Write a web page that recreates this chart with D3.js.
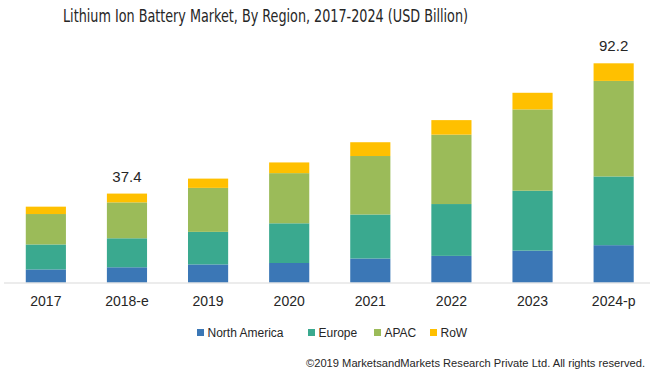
<!DOCTYPE html>
<html>
<head>
<meta charset="utf-8">
<script src="https://cdn.jsdelivr.net/npm/d3@7"></script>
<style>
  body { margin: 0; background: #fff; }
  svg { display: block; font-family: "Liberation Sans", Arial, sans-serif; }
</style>
</head>
<body>
<div id="chart"></div>
<script>
// Lithium Ion Battery Market by region (USD Billion)
const years = ["2017", "2018-e", "2019", "2020", "2021", "2022", "2023", "2024-p"];
const regions = ["North America", "Europe", "APAC", "RoW"];
const northAmerica = [5.5, 6.4, 7.6, 8.2, 10.1, 11.2, 13.4, 15.7];
const europe = [10.5, 12.2, 13.7, 16.7, 18.5, 21.8, 25.2, 28.9];
const apac = [12.8, 15.1, 18.5, 21.1, 24.6, 29.2, 34.2, 40.2];
const row = [3.1, 3.7, 3.9, 4.5, 5.8, 6.1, 7.0, 7.4];
const labelledYears = ["2018-e", "2024-p"];
const totalLabels = ["37.4", "92.2"];

const colors = {
    "North America": "#3b77b6",
    "Europe": "#3aa98f",
    "APAC": "#9bbb59",
    "RoW": "#ffc000"
};

const width = 650, height = 375;
const baseline = 282.5;

const svg = d3.select("#chart")
    .append("svg")
    .attr("width", width)
    .attr("height", height);

const table = years.map((yr, i) => ({
    year: yr,
    "North America": northAmerica[i],
    "Europe": europe[i],
    "APAC": apac[i],
    "RoW": row[i]
}));

const stacked = d3.stack().keys(regions)(table);

const x = d3.scaleBand()
    .domain(years)
    .range([5.5, 654])
    .paddingInner(0.505)
    .paddingOuter(0.25);

const y = d3.scaleLinear()
    .domain([0, 92.2])
    .range([baseline, 63.3]);

// Title
svg.append("text")
    .attr("x", 265.5)
    .attr("y", 22)
    .attr("text-anchor", "middle")
    .attr("font-family", "'Liberation Sans Narrow', 'DejaVu Sans Condensed', sans-serif")
    .attr("font-size", 18)
    .attr("fill", "#262626")
    .attr("textLength", 405)
    .attr("lengthAdjust", "spacingAndGlyphs")
    .text("Lithium Ion Battery Market, By Region, 2017-2024  (USD Billion)");

// Bars
svg.append("g")
    .selectAll("g")
    .data(stacked)
    .join("g")
    .attr("fill", d => colors[d.key])
    .selectAll("rect")
    .data(d => d)
    .join("rect")
    .attr("x", d => x(d.data.year))
    .attr("width", x.bandwidth())
    .attr("y", d => y(d[1]))
    .attr("height", d => y(d[0]) - y(d[1]));

// Axis line
svg.append("line")
    .attr("x1", 4)
    .attr("x2", 650)
    .attr("y1", baseline + 0.5)
    .attr("y2", baseline + 0.5)
    .attr("stroke", "#d9d9d9")
    .attr("stroke-width", 1);

// Category labels
const xAxis = svg.append("g")
    .attr("transform", `translate(0,${baseline})`)
    .call(d3.axisBottom(x).tickSize(0).tickPadding(14));
xAxis.select(".domain").remove();
xAxis.selectAll("text")
    .attr("font-family", "'Liberation Sans', Arial, sans-serif")
    .attr("font-size", 14)
    .attr("fill", "#262626");

// Total labels
labelledYears.forEach((yr, i) => {
    const idx = years.indexOf(yr);
    const top = stacked[stacked.length - 1][idx][1];
    svg.append("text")
        .attr("x", x(yr) + x.bandwidth() / 2)
        .attr("y", y(top) - 12)
        .attr("text-anchor", "middle")
        .attr("font-size", 15)
        .attr("fill", "#262626")
        .text(totalLabels[i]);
});

// Legend
const legendX = [197, 308, 374, 430];
const legend = svg.append("g");
regions.forEach((r, i) => {
    const g = legend.append("g").attr("transform", `translate(${legendX[i]},329)`);
    g.append("rect")
        .attr("width", 7)
        .attr("height", 7)
        .attr("fill", colors[r]);
    g.append("text")
        .attr("x", 10.5)
        .attr("y", 7.5)
        .attr("font-size", 12)
        .attr("fill", "#262626")
        .text(r);
});

// Footer
svg.append("text")
    .attr("x", 645)
    .attr("y", 367)
    .attr("text-anchor", "end")
    .attr("font-size", 11)
    .attr("fill", "#262626")
    .attr("textLength", 339)
    .attr("lengthAdjust", "spacingAndGlyphs")
    .text("©2019 MarketsandMarkets  Research Private Ltd. All rights reserved.");
</script>
</body>
</html>
